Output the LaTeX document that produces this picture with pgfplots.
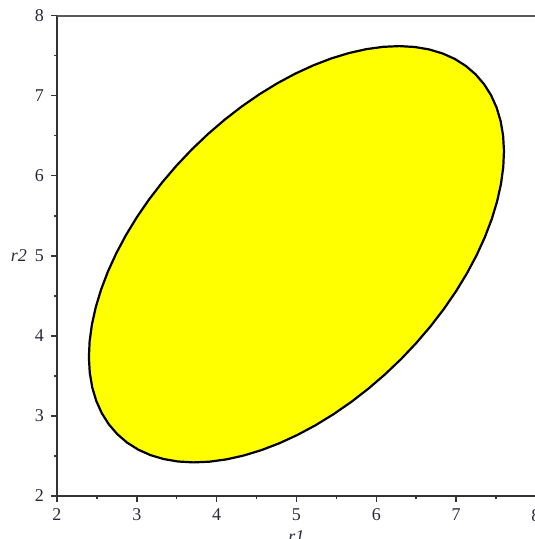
\documentclass[border=0pt]{standalone}
\usepackage{fontspec}
\setmainfont{Liberation Serif}
\usepackage{pgfplots}
\pgfplotsset{compat=1.18}
\definecolor{regionfill}{RGB}{255,255,0}
\definecolor{labelink}{RGB}{40,40,60}
\begin{document}
\begin{tikzpicture}
\begin{axis}[
  name=ax,
  scale only axis,
  width=239.5pt, height=240.2pt,
  xmin=2, xmax=8, ymin=2, ymax=8,
  axis lines*=left,
  axis line style={line width=0.8pt, black!80},
  xtick={2,...,8}, ytick={2,...,8},
  minor tick num=1,
  tick align=outside,
  major tick length=3pt, minor tick length=1.6pt,
  tick style={black!80, line width=0.7pt},
  tick label style={font=\fontsize{9}{10}\selectfont, text=labelink},
  /pgf/number format/assume math mode=true,
  xlabel={\textit{r1}}, ylabel={\textit{r2}},
  every axis x label/.style={at={(axis description cs:0.5,0)}, anchor=north, yshift=-14pt, font=\fontsize{9}{10}\selectfont, text=labelink},
  every axis y label/.style={at={(axis description cs:0,0.5)}, anchor=east, xshift=-11.5pt, font=\fontsize{9}{10}\selectfont, text=labelink},
  clip=false,
]
% confidence region for (r1, r2)
\addplot[fill=regionfill, draw=black, line width=1.1pt, line join=round] coordinates {
(7.2460,7.2660) (7.1232,7.3716) (6.9844,7.4594) (6.8304,7.5286) (6.6625,7.5785) (6.4820,7.6092)
(6.2901,7.6201) (6.0884,7.6112) (5.8784,7.5826) (5.6619,7.5345) (5.4402,7.4672) (5.2152,7.3814)
(4.9885,7.2775) (4.7619,7.1565) (4.5372,7.0192) (4.3159,6.8667) (4.0999,6.7001) (3.8908,6.5208)
(3.6900,6.3300) (3.4992,6.1292) (3.3199,5.9201) (3.1533,5.7041) (3.0008,5.4828) (2.8635,5.2581)
(2.7425,5.0315) (2.6386,4.8048) (2.5528,4.5798) (2.4855,4.3581) (2.4374,4.1416) (2.4088,3.9316)
(2.3999,3.7299) (2.4108,3.5380) (2.4415,3.3575) (2.4914,3.1896) (2.5606,3.0356) (2.6484,2.8968)
(2.7540,2.7740) (2.8768,2.6684) (3.0156,2.5806) (3.1696,2.5114) (3.3375,2.4615) (3.5180,2.4308)
(3.7099,2.4199) (3.9116,2.4288) (4.1216,2.4574) (4.3381,2.5055) (4.5598,2.5728) (4.7848,2.6586)
(5.0115,2.7625) (5.2381,2.8835) (5.4628,3.0208) (5.6841,3.1733) (5.9001,3.3399) (6.1092,3.5192)
(6.3100,3.7100) (6.5008,3.9108) (6.6801,4.1199) (6.8467,4.3359) (6.9992,4.5572) (7.1365,4.7819)
(7.2575,5.0085) (7.3614,5.2352) (7.4472,5.4602) (7.5145,5.6819) (7.5626,5.8984) (7.5912,6.1084)
(7.6001,6.3101) (7.5892,6.5020) (7.5585,6.6825) (7.5086,6.8504) (7.4394,7.0044) (7.3516,7.1432)
} -- cycle;
% upper frame line
\draw[black!65, line width=0.9pt] (rel axis cs:0,1) -- (rel axis cs:1,1);
\end{axis}
\pgfresetboundingbox
\path[use as bounding box] ([xshift=-28.5pt,yshift=-21.5pt]ax.south west) rectangle ([xshift=-0.5pt,yshift=7.85pt]ax.north east);
\end{tikzpicture}
\end{document}
